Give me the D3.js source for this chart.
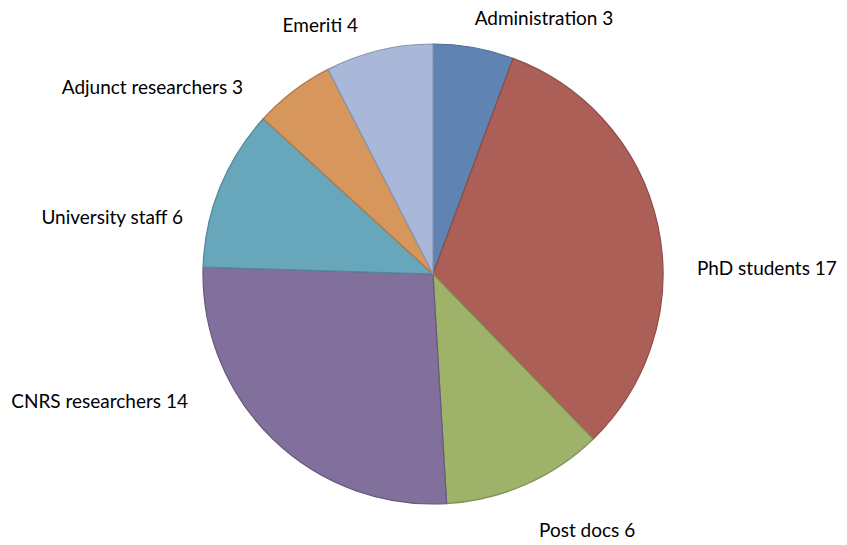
<!DOCTYPE html>
<html>
<head>
<meta charset="utf-8">
<script src="https://cdn.jsdelivr.net/npm/d3@7"></script>
<style>
  body { margin: 0; background: #fff; }
  svg text { font-family: Lato, "Open Sans", sans-serif; font-size: 19px; fill: #000; }
</style>
</head>
<body>
<svg id="chart"></svg>
<script>
const categories = ['Administration', 'PhD students', 'Post docs', 'CNRS researchers',
  'University staff', 'Adjunct researchers', 'Emeriti'];
const counts = [3, 17, 6, 14, 6, 3, 4];
const colors = ['#5f84b4', '#ac5f56', '#9fb26a', '#80709b', '#67a6bb', '#d7975c', '#a9b8d8'];

// label placement, relative to the pie centre (layout only)
const labelSpots = [
  [111, -256, 'middle'],
  [264, -6, 'start'],
  [106, 256, 'start'],
  [-245, 127, 'end'],
  [-250, -57, 'end'],
  [-190, -187, 'end'],
  [-75, -249, 'end']
];

const width = 847, height = 545;
const cx = 433, cy = 274, radius = 230;

const svg = d3.select('svg#chart')
  .attr('width', width)
  .attr('height', height);

const g = svg.append('g').attr('transform', `translate(${cx},${cy})`);

const pie = d3.pie().sort(null).value(d => d.value);
const arc = d3.arc().innerRadius(0).outerRadius(radius);

const rows = categories.map((c, i) => ({name: c, value: counts[i], color: colors[i]}));

g.selectAll('path')
  .data(pie(rows))
  .join('path')
  .attr('d', arc)
  .attr('fill', d => d.data.color)
  .attr('stroke', d => d3.color(d.data.color).darker(0.6))
  .attr('stroke-width', 1.2)
  .attr('stroke-linejoin', 'round');

g.selectAll('text')
  .data(rows)
  .join('text')
  .attr('x', (d, i) => labelSpots[i][0])
  .attr('y', (d, i) => labelSpots[i][1])
  .attr('text-anchor', (d, i) => labelSpots[i][2])
  .attr('dy', '0.35em')
  .text(d => `${d.name} ${d.value}`);
</script>
</body>
</html>
